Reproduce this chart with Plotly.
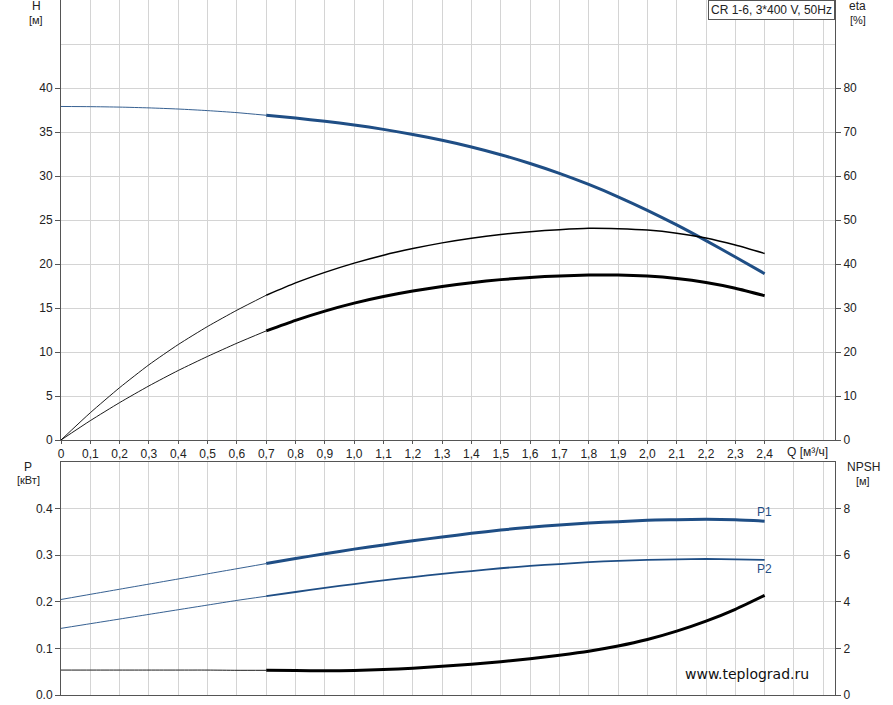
import plotly.graph_objects as go

# ---------------- data ----------------
q_thin = [0.0, 0.1, 0.2, 0.3, 0.4, 0.5, 0.6, 0.7]
q_thick = [0.7, 0.8, 0.9, 1.0, 1.1, 1.2, 1.3, 1.4, 1.5, 1.6, 1.7, 1.8, 1.9, 2.0, 2.1, 2.2, 2.3, 2.4]

h_thin = [37.9, 37.88, 37.83, 37.74, 37.61, 37.43, 37.2, 36.9]
h_thick = [36.9, 36.58, 36.22, 35.8, 35.3, 34.72, 34.06, 33.3, 32.42, 31.42, 30.3, 29.04,
           27.64, 26.1, 24.44, 22.66, 20.8, 18.9]

eta_thin = [0.0, 6.2, 11.9, 17.1, 21.7, 25.8, 29.5, 32.9]
eta_thick = [32.9, 35.7, 38.1, 40.2, 42.0, 43.5, 44.8, 45.85, 46.7, 47.35, 47.8, 48.1,
             48.0, 47.7, 47.0, 45.9, 44.3, 42.4]

eta2_thin = [0.0, 4.4, 8.5, 12.3, 15.8, 19.0, 22.0, 24.8]
eta2_thick = [24.8, 27.2, 29.3, 31.1, 32.6, 33.85, 34.9, 35.75, 36.45, 36.95, 37.3, 37.5,
              37.5, 37.25, 36.7, 35.8, 34.5, 32.8]

p1_thin = [0.205, 0.216, 0.227, 0.238, 0.249, 0.260, 0.271, 0.282]
p1_thick = [0.282, 0.293, 0.303, 0.313, 0.322, 0.331, 0.339, 0.347, 0.354, 0.360, 0.365,
            0.369, 0.372, 0.375, 0.376, 0.377, 0.376, 0.373]

p2_thin = [0.143, 0.153, 0.163, 0.173, 0.183, 0.193, 0.203, 0.212]
p2_thick = [0.212, 0.221, 0.230, 0.238, 0.246, 0.253, 0.260, 0.266, 0.272, 0.277, 0.281,
            0.285, 0.288, 0.290, 0.291, 0.292, 0.291, 0.290]

npsh_thin = [1.07, 1.07, 1.07, 1.07, 1.07, 1.07, 1.06, 1.06]
npsh_thick = [1.06, 1.05, 1.04, 1.05, 1.09, 1.15, 1.23, 1.32, 1.43, 1.56, 1.71, 1.88,
              2.10, 2.38, 2.74, 3.17, 3.68, 4.28]

q_ticks = [round(i * 0.1, 1) for i in range(25)]
q_ticktext = ["0"] + [f"{v:.1f}".replace(".", ",") for v in q_ticks[1:]]
h_ticks = [0, 5, 10, 15, 20, 25, 30, 35, 40]
eta_ticks = [0, 10, 20, 30, 40, 50, 60, 70, 80]
p_ticks = [0.0, 0.1, 0.2, 0.3, 0.4]
p_ticktext = ["0.0", "0.1", "0.2", "0.3", "0.4"]
npsh_ticks = [0, 2, 4, 6, 8]

# ---------------- style ----------------
BLUE = "#1f4e85"
BLACK = "#000000"
GRID = "#d4d4d4"
AXIS = "#555555"
FONT = "Liberation Sans, Arial, sans-serif"
THIN = 0.9
THICK = 3

W, H = 893, 705
ML, MR, MT, MB = 61, 58, 0, 10
PW, PH = W - ML - MR, H - MT - MB
top_lo = (695 - 440) / PH
bot_hi = (695 - 462) / PH


def px(xp):
    return (xp - ML) / PW


def py(yp):
    return (695 - yp) / PH


fig = go.Figure()


def add(x, y, color, width, xa, ya):
    fig.add_trace(go.Scatter(x=x, y=y, mode="lines", xaxis=xa, yaxis=ya,
                             line=dict(color=color, width=width, shape="spline", smoothing=0.6),
                             hoverinfo="skip", showlegend=False))


add(q_thin, eta_thin, BLACK, THIN, "x", "y2")
add(q_thick, eta_thick, BLACK, 1.5, "x", "y2")
add(q_thin, eta2_thin, BLACK, THIN, "x", "y2")
add(q_thick, eta2_thick, BLACK, THICK, "x", "y2")
add(q_thin, h_thin, BLUE, THIN, "x", "y")
add(q_thick, h_thick, BLUE, THICK, "x", "y")

add(q_thin, p1_thin, BLUE, THIN, "x2", "y3")
add(q_thick, p1_thick, BLUE, THICK, "x2", "y3")
add(q_thin, p2_thin, BLUE, THIN, "x2", "y3")
add(q_thick, p2_thick, BLUE, 1.8, "x2", "y3")
add(q_thin, npsh_thin, BLACK, THIN, "x2", "y4")
add(q_thick, npsh_thick, BLACK, THICK, "x2", "y4")

tickfont = dict(family=FONT, size=12, color="#222")

xcommon = dict(range=[0, 2.64], showgrid=True, gridcolor=GRID, gridwidth=1,
               showline=True, linecolor=AXIS, linewidth=1, mirror=True,
               zeroline=False, tickvals=q_ticks, ticktext=q_ticktext,
               tickfont=tickfont, automargin=False,
               minor=dict(tickvals=[2.5, 2.6], showgrid=True, gridcolor=GRID, ticks=""))

ycommon = dict(showline=True, linecolor=AXIS, zeroline=False, ticks="outside",
               ticklen=5, tickcolor=AXIS, tickfont=tickfont, automargin=False)

fig.update_layout(
    width=W, height=H,
    margin=dict(l=ML, r=MR, t=MT, b=MB),
    paper_bgcolor="white", plot_bgcolor="white",
    font=dict(family=FONT, size=12, color="#222"),
    xaxis=dict(**xcommon, domain=[0, 1], anchor="y", ticks="outside", ticklen=3,
               tickcolor=AXIS),
    xaxis2=dict(**xcommon, domain=[0, 1], anchor="y3", matches="x",
                showticklabels=False, ticks=""),
    yaxis=dict(**ycommon, domain=[top_lo, 1], anchor="x", range=[0, 50], tickvals=h_ticks,
               showgrid=True, gridcolor=GRID,
               minor=dict(tickvals=[45], showgrid=True, gridcolor=GRID, ticks="")),
    yaxis2=dict(**ycommon, overlaying="y", side="right", anchor="x", range=[0, 100],
                tickvals=eta_ticks, showgrid=False),
    yaxis3=dict(**ycommon, domain=[0, bot_hi], anchor="x2", range=[0, 0.5], tickvals=p_ticks,
                ticktext=p_ticktext, showgrid=True, gridcolor=GRID),
    yaxis4=dict(**ycommon, overlaying="y3", side="right", anchor="x2", range=[0, 10],
                tickvals=npsh_ticks, showgrid=False),
)

ann = []


def label(text, xp, yp, size=12, color="#222", family=FONT, **kw):
    ann.append(dict(text=text, x=px(xp), y=py(yp), xref="paper", yref="paper",
                    showarrow=False, xanchor="center", yanchor="middle",
                    font=dict(family=family, size=size, color=color), **kw))


label("H", 36, 6)
label("[м]", 36, 20, size=11)
label("eta", 858, 6)
label("[%]", 858, 20, size=11)
label("P", 28, 467)
label("[кВт]", 28, 480, size=11)
label("NPSH", 863, 467)
label("[м]", 863, 481, size=11)
label("Q [м³/ч]", 807, 452)
label("www.teplograd.ru", 747, 674, size=14, color="#111", family="DejaVu Sans, Verdana, sans-serif")

ann.append(dict(text="CR 1-6, 3*400 V, 50Hz", x=1, y=1, xref="paper", yref="paper",
                xanchor="right", yanchor="top", showarrow=False,
                bgcolor="white", bordercolor=AXIS, borderwidth=1, borderpad=2,
                font=dict(family=FONT, size=12, color="#222")))

ann.append(dict(text="P1", x=2.4, y=p1_thick[-1], xref="x2", yref="y3", yshift=9,
                showarrow=False, font=dict(family=FONT, size=12, color=BLUE)))
ann.append(dict(text="P2", x=2.4, y=p2_thick[-1], xref="x2", yref="y3", yshift=-9,
                showarrow=False, font=dict(family=FONT, size=12, color=BLUE)))

fig.update_layout(annotations=ann)

fig.write_html("out.html", config={"displayModeBar": False},
               post_script="document.body.style.margin='0px';")
